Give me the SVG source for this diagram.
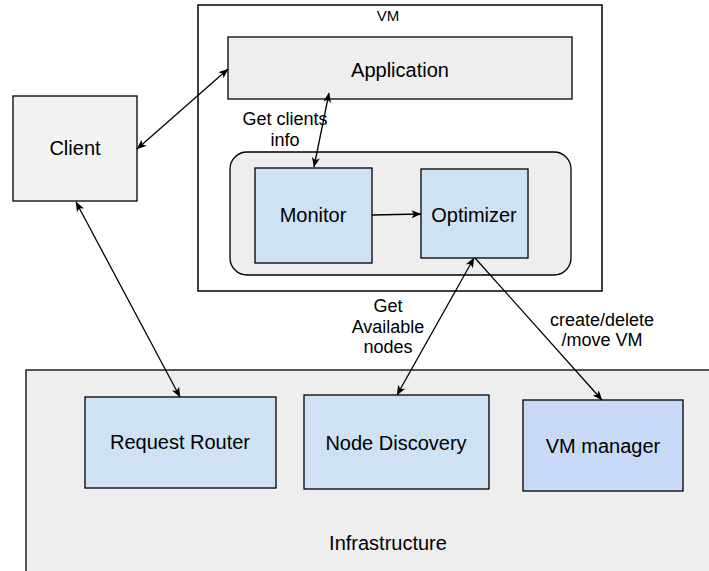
<svg xmlns="http://www.w3.org/2000/svg" width="709" height="571" viewBox="0 0 709 571">
  <style>
    .box { stroke: #000; stroke-width: 1.3; }
    .grey { fill: #f3f3f3; }
    .panel { fill: #eeeeee; }
    .blue { fill: #cfe2f3; }
    .blue2 { fill: #c9daf8; }
    .lbl { font-family: "Liberation Sans", Arial, sans-serif; font-size: 20px; fill: #000; text-anchor: middle; }
    .small { font-family: "Liberation Sans", Arial, sans-serif; font-size: 18px; fill: #000; text-anchor: middle; }
    .edge { fill: none; stroke: #000; stroke-width: 1.3; }
  </style>
  <defs>
    <marker id="ah" viewBox="0 0 10 10" refX="9.5" refY="5" markerWidth="10" markerHeight="10" markerUnits="userSpaceOnUse" orient="auto-start-reverse">
      <path d="M0,1 L10,5 L0,9 L2.5,5 Z" fill="#000"/>
    </marker>
  </defs>

  <rect width="709" height="571" fill="#fff"/>

  <!-- infrastructure panel -->
  <g id="infrastructure">
    <rect class="box panel" x="26" y="370" width="700" height="220"/>
    <text class="lbl" x="388" y="550">Infrastructure</text>
  </g>

  <!-- virtual machine frame -->
  <g id="vm">
    <rect x="198" y="5" width="404" height="286" fill="#fff" stroke="#000" stroke-width="1.5"/>
    <text x="388" y="21" font-family="Liberation Sans, Arial, sans-serif" font-size="15" text-anchor="middle">VM</text>
  </g>

  <g id="application">
    <rect class="box panel" x="228" y="37" width="344" height="62"/>
    <text class="lbl" x="400" y="77">Application</text>
  </g>

  <g id="agent">
    <rect class="box panel" x="230" y="152" width="341" height="123" rx="17" ry="17"/>
  </g>

  <g id="monitor">
    <rect class="box blue" x="255" y="168" width="117" height="95"/>
    <text class="lbl" x="313" y="222">Monitor</text>
  </g>

  <g id="optimizer">
    <rect class="box blue" x="421" y="169" width="107" height="89"/>
    <text class="lbl" x="474" y="222">Optimizer</text>
  </g>

  <g id="client">
    <rect class="box grey" x="13" y="96" width="124" height="105"/>
    <text class="lbl" x="75" y="155">Client</text>
  </g>

  <g id="request-router">
    <rect class="box blue" x="85" y="397" width="191" height="91"/>
    <text class="lbl" x="180" y="449">Request Router</text>
  </g>

  <g id="node-discovery">
    <rect class="box blue" x="304" y="395" width="185" height="94"/>
    <text class="lbl" x="396" y="450">Node Discovery</text>
  </g>

  <g id="vm-manager">
    <rect class="box blue2" x="523" y="400" width="160" height="91"/>
    <text class="lbl" x="603" y="453">VM manager</text>
  </g>

  <!-- connectors -->
  <g id="connectors">
    <line class="edge" x1="137" y1="149" x2="228" y2="69" marker-start="url(#ah)" marker-end="url(#ah)"/>
    <line class="edge" x1="329" y1="93" x2="314" y2="167" marker-start="url(#ah)" marker-end="url(#ah)"/>
    <line class="edge" x1="372" y1="215" x2="421" y2="214" marker-end="url(#ah)"/>
    <line class="edge" x1="76" y1="202" x2="180" y2="397" marker-start="url(#ah)" marker-end="url(#ah)"/>
    <line class="edge" x1="474" y1="258" x2="397" y2="395" marker-start="url(#ah)" marker-end="url(#ah)"/>
    <line class="edge" x1="475" y1="258" x2="602" y2="400" marker-end="url(#ah)"/>

    <text class="small" x="285" y="125">Get clients</text>
    <text class="small" x="285" y="146">info</text>

    <text class="small" x="388" y="312">Get</text>
    <text class="small" x="388" y="333">Available</text>
    <text class="small" x="388" y="353">nodes</text>

    <text class="small" x="602" y="326">create/delete</text>
    <text class="small" x="602" y="346">/move VM</text>
  </g>
</svg>
